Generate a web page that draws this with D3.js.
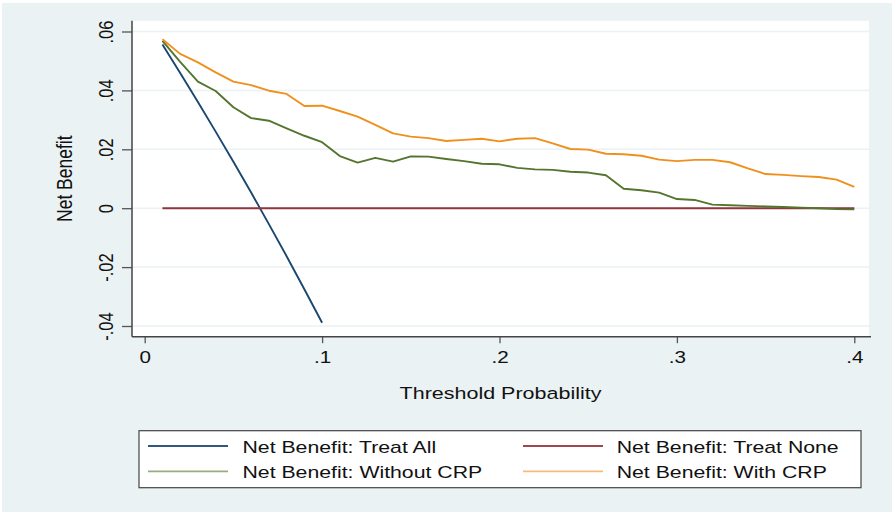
<!DOCTYPE html>
<html>
<head>
<meta charset="utf-8">
<script src="https://cdn.jsdelivr.net/npm/d3@7"></script>
<style>
  html, body { margin: 0; padding: 0; background: #ffffff; }
  svg { display: block; }
  text { font-family: "Liberation Sans", Arial, Helvetica, sans-serif; fill: #111; }
</style>
</head>
<body>
<svg id="chart" width="894" height="516"></svg>
<script>
// ---- data ----
const thresholds = [0.01,0.02,0.03,0.04,0.05,0.06,0.07,0.08,0.09,0.10,
  0.11,0.12,0.13,0.14,0.15,0.16,0.17,0.18,0.19,0.20,
  0.21,0.22,0.23,0.24,0.25,0.26,0.27,0.28,0.29,0.30,
  0.31,0.32,0.33,0.34,0.35,0.36,0.37,0.38,0.39,0.40];

const treatAllThresholds = [0.01,0.02,0.03,0.04,0.05,0.06,0.07,0.08,0.09,0.10];
const treatAll = [0.0556,0.0459,0.0361,0.0260,0.0158,0.0053,-0.0054,-0.0163,-0.0275,-0.0389];

const treatNone = [0,0,0,0,0,0,0,0,0,0, 0,0,0,0,0,0,0,0,0,0,
  0,0,0,0,0,0,0,0,0,0, 0,0,0,0,0,0,0,0,0,0];

const withoutCRP = [0.0568,0.0497,0.0430,0.0398,0.0343,0.0306,0.0297,0.0271,0.0246,0.0224,
  0.0177,0.0155,0.0171,0.0158,0.0176,0.0175,0.0167,0.0160,0.0151,0.0149,
  0.0137,0.0132,0.0130,0.0124,0.0121,0.0112,0.0066,0.0061,0.0053,0.0031,
  0.0028,0.0012,0.0010,0.0008,0.0006,0.0004,0.0002,0.0000,-0.0003,-0.0004];

const withCRP = [0.0574,0.0524,0.0495,0.0461,0.0430,0.0418,0.0399,0.0388,0.0347,0.0348,
  0.0330,0.0311,0.0283,0.0254,0.0243,0.0238,0.0228,0.0232,0.0236,0.0227,
  0.0236,0.0238,0.0220,0.0201,0.0199,0.0185,0.0183,0.0178,0.0165,0.0160,
  0.0164,0.0164,0.0156,0.0135,0.0116,0.0113,0.0109,0.0106,0.0097,0.0072];

const xTicks = [0, 0.1, 0.2, 0.3, 0.4];
const xTickLabels = ["0", ".1", ".2", ".3", ".4"];
const yTicks = [-0.04, -0.02, 0, 0.02, 0.04, 0.06];
const yTickLabels = ["-.04", "-.02", "0", ".02", ".04", ".06"];

const seriesNames = ["Net Benefit: Treat All", "Net Benefit: Treat None",
                     "Net Benefit: Without CRP", "Net Benefit: With CRP"];
const seriesColors = ["#1a476f", "#90353b", "#55752f", "#f0901c"];

const xTitle = "Threshold Probability";
const yTitle = "Net Benefit";

// ---- layout ----
const svg = d3.select("#chart");
const plot = { left: 132, right: 869, top: 20.7, bottom: 336.7 };
const SX = 1.25; // horizontal stretch of text in the reference

const x = d3.scaleLinear().domain([0, 0.4]).range([144.7, 854.3]);
const y = d3.scaleLinear().domain([-0.04, 0.06]).range([326, 31.5]);

// outer background
svg.append("rect").attr("x", 2).attr("y", 3).attr("width", 890).attr("height", 509)
  .attr("fill", "#eaf2f3");
// plot region
svg.append("rect").attr("x", plot.left).attr("y", plot.top)
  .attr("width", plot.right - plot.left).attr("height", plot.bottom - plot.top)
  .attr("fill", "#ffffff");

// gridlines
svg.append("g").selectAll("line").data(yTicks).join("line")
  .attr("x1", plot.left).attr("x2", plot.right)
  .attr("y1", d => y(d)).attr("y2", d => y(d))
  .attr("stroke", "#eaf2f3").attr("stroke-width", 1.5);

// axes (ticks via d3 axis)
const yAxis = svg.append("g").attr("transform", `translate(${plot.left},0)`)
  .call(d3.axisLeft(y).tickValues(yTicks).tickSize(10).tickSizeOuter(0).tickFormat(""));
const xAxis = svg.append("g").attr("transform", `translate(0,${plot.bottom})`)
  .call(d3.axisBottom(x).tickValues(xTicks).tickSize(6.5).tickSizeOuter(0).tickFormat(""));
[yAxis, xAxis].forEach(g => {
  g.select(".domain").remove();
  g.selectAll(".tick line").attr("stroke", "#555").attr("stroke-width", 1.3);
});
// axis lines
svg.append("line").attr("x1", plot.left).attr("x2", plot.left)
  .attr("y1", plot.top).attr("y2", plot.bottom).attr("stroke", "#444").attr("stroke-width", 1.5);
svg.append("line").attr("x1", plot.left).attr("x2", plot.right + 2)
  .attr("y1", plot.bottom).attr("y2", plot.bottom).attr("stroke", "#444").attr("stroke-width", 1.5);

// tick labels
yAxis.selectAll(".tick").each(function(d, i) {
  d3.select(this).append("text")
    .attr("transform", `translate(-19,0) scale(${SX},1) rotate(-90)`)
    .attr("text-anchor", "middle")
    .attr("font-size", 16.5)
    .text(yTickLabels[yTicks.indexOf(d)]);
});
xAxis.selectAll(".tick").each(function(d) {
  d3.select(this).append("text")
    .attr("transform", `translate(0,26.5) scale(${SX},1)`)
    .attr("text-anchor", "middle")
    .attr("font-size", 16.5)
    .text(xTickLabels[xTicks.indexOf(d)]);
});

// axis titles
svg.append("text")
  .attr("transform", `translate(72,${(plot.top + plot.bottom) / 2}) scale(${SX},1) rotate(-90)`)
  .attr("text-anchor", "middle").attr("font-size", 17.5).text(yTitle);
svg.append("text")
  .attr("transform", `translate(${(plot.left + plot.right) / 2},399) scale(${SX},1)`)
  .attr("text-anchor", "middle").attr("font-size", 17.2).text(xTitle);

// lines
const line = d3.line().x(d => x(d[0])).y(d => y(d[1]));
const seriesData = [
  d3.zip(treatAllThresholds, treatAll),
  d3.zip(thresholds, treatNone),
  d3.zip(thresholds, withoutCRP),
  d3.zip(thresholds, withCRP)
];
svg.append("g").selectAll("path").data(seriesData).join("path")
  .attr("d", line)
  .attr("fill", "none")
  .attr("stroke", (d, i) => seriesColors[i])
  .attr("stroke-width", 1.9)
  .attr("stroke-linejoin", "round");

// legend
const lg = svg.append("g");
lg.append("rect").attr("x", 139).attr("y", 430.7).attr("width", 722).attr("height", 57)
  .attr("fill", "#ffffff").attr("stroke", "#444").attr("stroke-width", 1.2);
const legendPos = [
  { lx: 148, tx: 242.5, ly: 446, ty: 452.7 },
  { lx: 523, tx: 616.7, ly: 446, ty: 452.7 },
  { lx: 148, tx: 242.5, ly: 471.3, ty: 478 },
  { lx: 523, tx: 616.7, ly: 471.3, ty: 478 }
];
seriesNames.forEach((name, i) => {
  const p = legendPos[i];
  lg.append("line").attr("x1", p.lx).attr("x2", p.lx + 80)
    .attr("y1", p.ly).attr("y2", p.ly)
    .attr("stroke", seriesColors[i]).attr("stroke-width", 1.8)
    .attr("stroke-opacity", i >= 2 ? 0.6 : 0.9);
  lg.append("text")
    .attr("transform", `translate(${p.tx},${p.ty}) scale(${SX},1)`)
    .attr("font-size", 17).text(name);
});
</script>
</body>
</html>
